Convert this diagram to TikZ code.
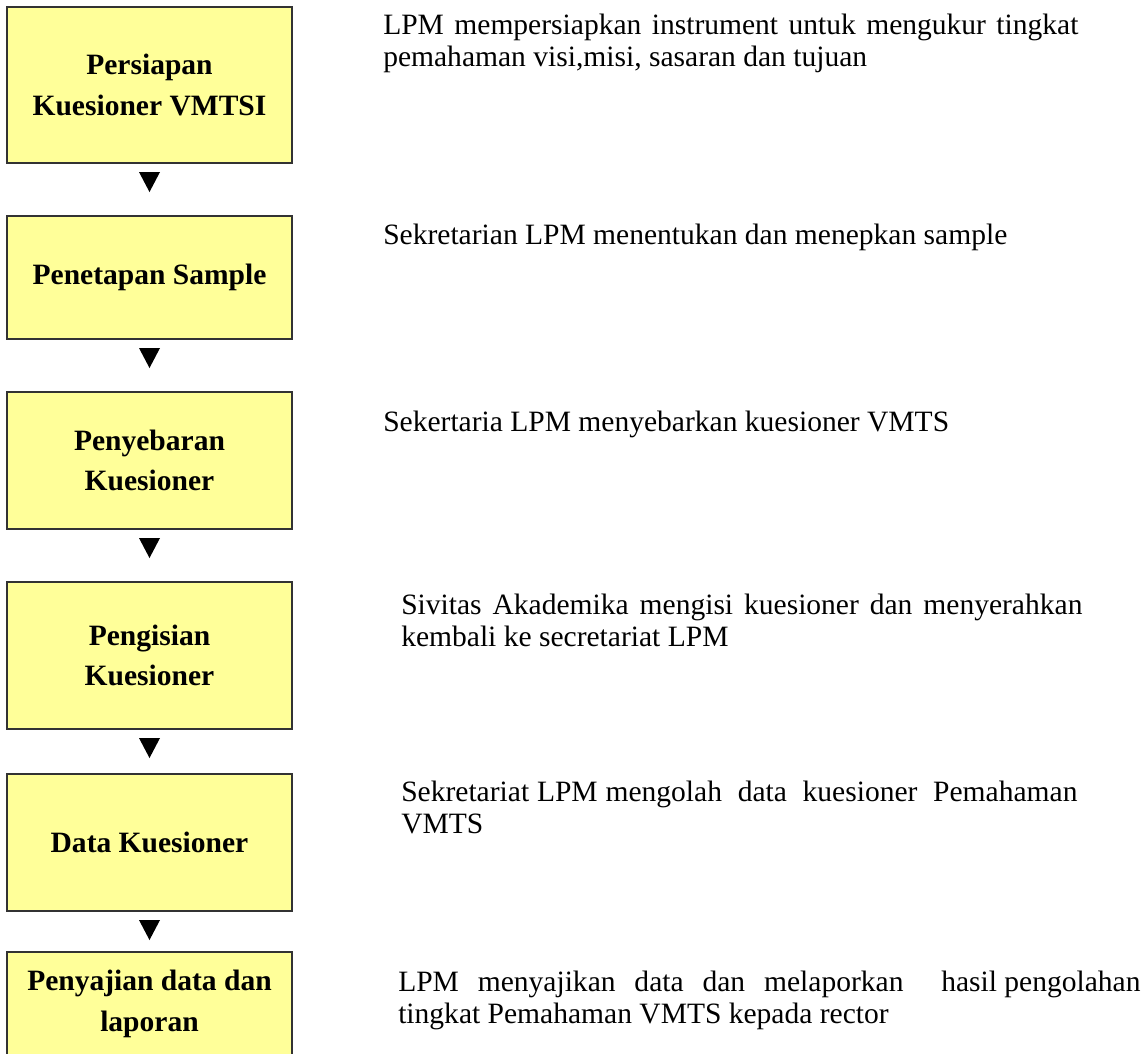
\documentclass[tikz,border=0pt]{standalone}
\usepackage{fontspec}
\setmainfont{Liberation Serif}
\definecolor{kuning}{HTML}{FFFF99}

\begin{document}
\begin{tikzpicture}[x=0.025cm,y=-0.025cm,
  tahap/.style={draw=black!80,line width=0.9pt,fill=kuning,minimum width=7.125cm,
    inner sep=0pt,outer sep=0pt,align=center,font=\fontsize{21}{29}\selectfont\bfseries},
  ket/.style={anchor=base west,inner sep=0pt,align=justify,font=\fontsize{21}{23}\selectfont}]
  \useasboundingbox (0,0) rectangle (1144,1053);
  \clip (0,0) rectangle (1144,1053);
  % kotak tahapan
  \node[tahap,minimum height=3.9cm] (b1) at (149.5,85) {Persiapan\\Kuesioner\ VMTSI};
  \node[tahap,minimum height=3.075cm] (b2) at (149.5,277.5) {Penetapan Sample};
  \node[tahap,minimum height=3.425cm] (b3) at (149.5,460.5) {Penyebaran\\Kuesioner};
  \node[tahap,minimum height=3.675cm] (b4) at (149.5,655.5) {Pengisian\\Kuesioner};
  \node[tahap,minimum height=3.425cm] (b5) at (149.5,842.5) {Data Kuesioner};
  \node[tahap,minimum height=2.6cm] (b6) at (149.5,1004) {Penyajian data dan\\laporan};
  % segitiga penunjuk
  \foreach \i in {1,...,5}
    \fill ([yshift=-0.225cm]b\i.south) ++(-10.5,0) -- ++(21,0) -- ++(-10.5,20) -- cycle;
  % keterangan tiap tahap
  \node[ket,text width=17.375cm] (d1) at (383,34) {LPM mempersiapkan instrument untuk mengukur tingkat\linebreak pemahaman visi,misi, sasaran dan tujuan};
  \node[ket,text width=17.375cm] (d2) at (383,244) {Sekretarian LPM menentukan dan menepkan sample};
  \node[ket,text width=17.375cm] (d3) at (383,431) {Sekertaria LPM menyebarkan kuesioner VMTS};
  \node[ket,text width=17.025cm] (d4) at (401,614) {Sivitas Akademika mengisi kuesioner dan menyerahkan\linebreak kembali ke secretariat LPM};
  \node[ket,text width=16.9cm] (d5) at (401,801) {Sekretariat LPM mengolah\ \ data\ \ kuesioner\ \ Pemahaman\linebreak VMTS};
  \node[ket,text width=18.55cm] (d6) at (398,991) {LPM menyajikan data dan melaporkan\ \ hasil\hspace{0.25em}pengolahan\linebreak tingkat Pemahaman VMTS kepada rector};
\end{tikzpicture}
\end{document}
